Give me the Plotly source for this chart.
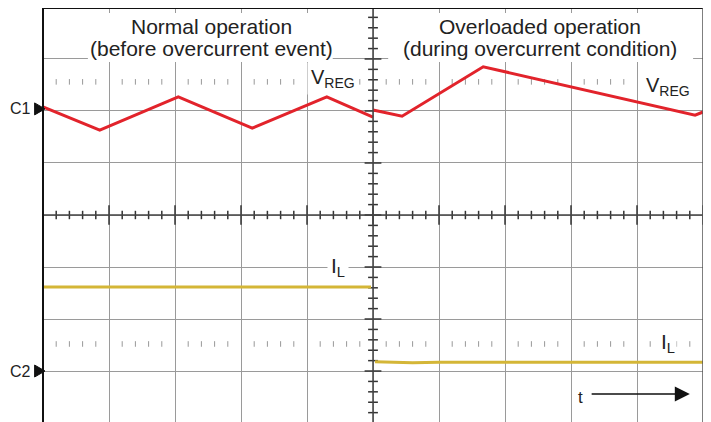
import plotly.graph_objects as go

# ---- data (in screen divisions: x 0..10, y -4..4, centre 0) ----
vreg_left_t = [0.0, 0.86, 2.05, 3.17, 4.30, 5.0]
vreg_left_v = [2.08, 1.63, 2.27, 1.67, 2.27, 1.88]
vreg_right_t = [5.0, 5.44, 6.67, 9.88, 10.0]
vreg_right_v = [2.02, 1.90, 2.85, 1.92, 1.98]
il_left_t = [0.0, 4.97]
il_left_v = [-1.385, -1.385]
il_right_t = [5.03, 5.6, 6.0, 10.0]
il_right_v = [-2.82, -2.84, -2.83, -2.83]

marker_c1 = 2.04
marker_c2 = -3.0
dot_rows = [2.56, -2.48]

RED = "#e2232b"
YEL = "#d4b637"
TXT = "#222222"
FONT = "Liberation Sans, Arial, sans-serif"

fig = go.Figure()

# minor ticks on centre cross
minor = [round(k * 0.2, 2) for k in range(0, 51)]
mx_minor = [v for v in minor if abs(v - round(v)) > 1e-6]
mx_major = [float(v) for v in range(0, 11)]
fig.add_trace(go.Scatter(x=mx_minor, y=[0] * len(mx_minor), mode="markers",
                         marker=dict(symbol="line-ns", size=6, line=dict(width=1.5, color="#333")),
                         hoverinfo="skip", showlegend=False))
fig.add_trace(go.Scatter(x=mx_major, y=[0] * len(mx_major), mode="markers",
                         marker=dict(symbol="line-ns", size=14, line=dict(width=1.5, color="#333")),
                         hoverinfo="skip", showlegend=False))
ymin_all = [round(-4 + k * 0.2, 2) for k in range(0, 41)]
my_minor = [v for v in ymin_all if abs(v - round(v)) > 1e-6]
my_major = [float(v) for v in range(-4, 5)]
fig.add_trace(go.Scatter(x=[5] * len(my_minor), y=my_minor, mode="markers",
                         marker=dict(symbol="line-ew", size=7, line=dict(width=1.5, color="#333")),
                         hoverinfo="skip", showlegend=False))
fig.add_trace(go.Scatter(x=[5] * len(my_major), y=my_major, mode="markers",
                         marker=dict(symbol="line-ew", size=12, line=dict(width=1.5, color="#333")),
                         hoverinfo="skip", showlegend=False))

# dotted rows
for r in dot_rows:
    fig.add_trace(go.Scatter(x=mx_minor, y=[r] * len(mx_minor), mode="markers",
                             marker=dict(symbol="line-ns", size=4, line=dict(width=1, color="#999")),
                             hoverinfo="skip", showlegend=False))

# traces
fig.add_trace(go.Scatter(x=vreg_left_t, y=vreg_left_v, mode="lines",
                         line=dict(color=RED, width=3), showlegend=False))
fig.add_trace(go.Scatter(x=vreg_right_t, y=vreg_right_v, mode="lines",
                         line=dict(color=RED, width=3), showlegend=False))
fig.add_trace(go.Scatter(x=il_left_t, y=il_left_v, mode="lines",
                         line=dict(color=YEL, width=3), showlegend=False))
fig.add_trace(go.Scatter(x=il_right_t, y=il_right_v, mode="lines",
                         line=dict(color=YEL, width=3), showlegend=False))

# centre lines, border, title boxes
shapes = [
    dict(type="rect", x0=0.68, x1=4.39, y0=2.94, y1=3.885, layer="between",
         fillcolor="white", line=dict(width=0)),
    dict(type="rect", x0=5.23, x1=9.85, y0=2.94, y1=3.885, layer="between",
         fillcolor="white", line=dict(width=0)),
    dict(type="line", x0=0, x1=10, y0=0, y1=0, line=dict(color="#444", width=1.5)),
    dict(type="line", x0=5, x1=5, y0=-4, y1=4, line=dict(color="#444", width=1.5)),
    dict(type="line", xref="paper", yref="paper", x0=0, x1=0, y0=0, y1=1.0,
         line=dict(color="#111", width=2)),
    dict(type="line", xref="paper", yref="paper", x0=0, x1=1, y0=1.0, y1=1.0,
         line=dict(color="#111", width=2)),
    dict(type="line", xref="paper", yref="paper", x0=1, x1=1, y0=0, y1=1.0,
         line=dict(color="#555", width=1.5)),
]
# channel marker triangles
for yv in (marker_c1, marker_c2):
    shapes.append(dict(type="path", xref="paper", yref="y",
                       path=f"M -0.0127,{yv + 0.115:.3f} L 0.003,{yv:.3f} L -0.0127,{yv - 0.115:.3f} Z",
                       fillcolor="#111", line=dict(color="#111", width=1)))

ann = []
def label(text, x, y, size=21, bg="white", pad=2, xanchor="center"):
    ann.append(dict(text=text, x=x, y=y, xref="x", yref="y", showarrow=False,
                    font=dict(family=FONT, size=size, color=TXT), bgcolor=bg,
                    borderpad=pad, xanchor=xanchor, yanchor="middle", align="center"))

label("Normal operation", 2.56, 3.62, bg="rgba(0,0,0,0)", pad=0)
label("(before overcurrent event)", 2.56, 3.21, bg="rgba(0,0,0,0)", pad=0)
label("Overloaded operation", 7.53, 3.62, bg="rgba(0,0,0,0)", pad=0)
label("(during overcurrent condition)", 7.53, 3.21, bg="rgba(0,0,0,0)", pad=0)
label("V<sub>REG</sub>", 4.40, 2.62, size=20, pad=3)
label("V<sub>REG</sub>", 9.47, 2.47, size=20, pad=1)
label("I<sub>L</sub>", 4.47, -1.0, size=21, pad=3)
label("I<sub>L</sub>", 9.47, -2.47, size=21, pad=1)
label("t", 8.15, -3.5, size=17, bg="rgba(0,0,0,0)", pad=0)
ann.append(dict(text="C1", x=-0.015, y=marker_c1, xref="paper", yref="y", showarrow=False,
                xanchor="right", yanchor="middle", font=dict(family=FONT, size=16, color=TXT)))
ann.append(dict(text="C2", x=-0.015, y=marker_c2, xref="paper", yref="y", showarrow=False,
                xanchor="right", yanchor="middle", font=dict(family=FONT, size=16, color=TXT)))
# time arrow
ann.append(dict(text="", x=9.80, y=-3.44, ax=8.29, ay=-3.44, xref="x", yref="y",
                axref="x", ayref="y", showarrow=True, arrowhead=2, arrowsize=2.0,
                arrowwidth=1.5, arrowcolor="#111"))

fig.update_layout(
    width=703, height=414,
    margin=dict(l=35, r=8, t=0, b=0),
    paper_bgcolor="white", plot_bgcolor="white",
    xaxis=dict(range=[0, 10], dtick=1, tick0=0, showgrid=True, gridcolor="#9a9a9a",
               gridwidth=1, showticklabels=False, zeroline=False, ticks="", showline=False,
               fixedrange=True),
    yaxis=dict(range=[-3.98, 3.98], dtick=1, tick0=0, showgrid=True, gridcolor="#9a9a9a",
               gridwidth=1, showticklabels=False, zeroline=False, ticks="", showline=False,
               fixedrange=True),
    shapes=shapes,
    annotations=ann,
)

fig.write_html("out.html")
